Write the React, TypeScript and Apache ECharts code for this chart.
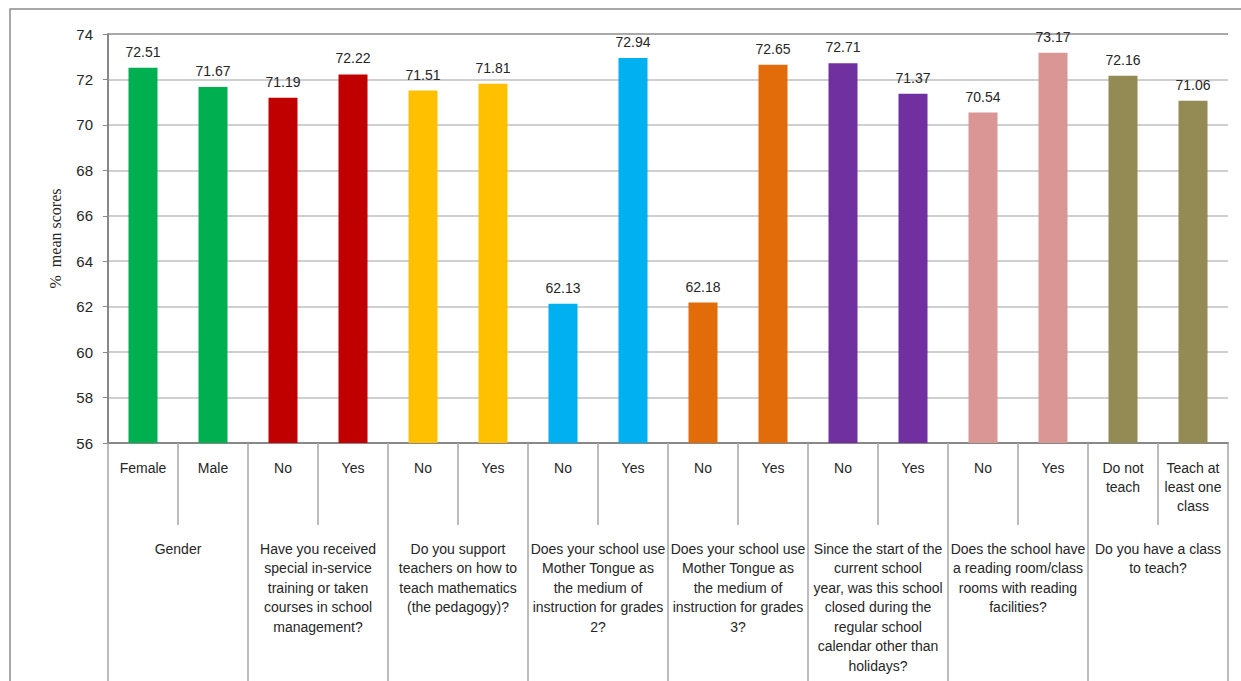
import React, { useEffect, useRef } from "react";
import * as echarts from "echarts";

const subCategories = [
  "Female", "Male", "No", "Yes", "No", "Yes", "No", "Yes",
  "No", "Yes", "No", "Yes", "No", "Yes", "Do not\nteach", "Teach at\nleast one\nclass",
];
const groupLabels = [
  "Gender",
  "Have you received\nspecial in-service\ntraining or taken\ncourses in school\nmanagement?",
  "Do you support\nteachers on how to\nteach mathematics\n(the pedagogy)?",
  "Does your school use\nMother Tongue as\nthe medium of\ninstruction for grades\n2?",
  "Does your school use\nMother Tongue as\nthe medium of\ninstruction for grades\n3?",
  "Since the start of the\ncurrent school\nyear, was this school\nclosed during the\nregular school\ncalendar other than\nholidays?",
  "Does the school have\na reading room/class\nrooms with reading\nfacilities?",
  "Do you have a class\nto teach?",
];
const values = [
  72.51, 71.67, 71.19, 72.22, 71.51, 71.81, 62.13, 72.94,
  62.18, 72.65, 72.71, 71.37, 70.54, 73.17, 72.16, 71.06,
];
const barColors = [
  "#00b050", "#00b050", "#c00000", "#c00000", "#ffc000", "#ffc000", "#00b0f0", "#00b0f0",
  "#e36c0a", "#e36c0a", "#7030a0", "#7030a0", "#d99694", "#d99694", "#948a54", "#948a54",
];
const yTicks = { min: 56, max: 74, interval: 2 };

const FONT = "Liberation Sans";

export default function App() {
  const ref = useRef<HTMLDivElement>(null);
  useEffect(() => {
    if (!ref.current) return;
    const chart = echarts.init(ref.current, undefined, { renderer: "svg" });
    chart.setOption({
      animation: false,
      textStyle: { fontFamily: FONT },
      grid: { left: 108, right: 13, top: 34, bottom: 238, containLabel: false },
      graphic: [
        {
          type: "rect",
          shape: { x: 10, y: 9, width: 1240, height: 700 },
          style: { fill: "none", stroke: "#8c8c8c", lineWidth: 1.5 },
          silent: true,
        },
      ],
      xAxis: [
        {
          type: "category",
          data: subCategories,
          position: "bottom",
          axisLine: { show: true, lineStyle: { color: "#888", width: 2 } },
          axisTick: { show: true, interval: 0, length: 82, lineStyle: { color: "#a6a6a6", width: 1.5 } },
          axisLabel: {
            interval: 0,
            margin: 15,
            fontSize: 14,
            lineHeight: 19,
            color: "#262626",
            fontFamily: FONT,
            verticalAlign: "top",
          },
        },
        {
          type: "category",
          data: groupLabels,
          position: "bottom",
          offset: 82,
          axisLine: { show: false },
          axisTick: { show: true, interval: 0, length: 170, lineStyle: { color: "#a6a6a6", width: 1.5 } },
          axisLabel: {
            interval: 0,
            margin: 14,
            fontSize: 14,
            lineHeight: 19.5,
            color: "#262626",
            fontFamily: FONT,
            verticalAlign: "top",
          },
        },
      ],
      yAxis: {
        type: "value",
        min: yTicks.min,
        max: yTicks.max,
        interval: yTicks.interval,
        name: "%  mean scores",
        nameLocation: "middle",
        nameGap: 45,
        nameTextStyle: { fontFamily: "Liberation Serif", fontSize: 16, color: "#262626" },
        axisLine: { show: true, lineStyle: { color: "#888", width: 2 } },
        axisTick: { show: true, length: 5, lineStyle: { color: "#888" } },
        axisLabel: { fontSize: 15, color: "#262626", margin: 15, fontFamily: FONT },
        splitLine: {
          show: true,
          lineStyle: {
            color: ["#bfbfbf", "#bfbfbf", "#bfbfbf", "#bfbfbf", "#bfbfbf", "#bfbfbf", "#bfbfbf", "#bfbfbf", "#bfbfbf", "#8c8c8c"],
            width: 1.5,
          },
        },
      },
      series: [
        {
          type: "bar",
          xAxisIndex: 0,
          barWidth: 29,
          data: values.map((v, i) => ({ value: v, itemStyle: { color: barColors[i] } })),
          label: {
            show: true,
            position: "top",
            distance: 9,
            fontSize: 14,
            color: "#262626",
            fontFamily: FONT,
            formatter: (p: any) => p.value.toFixed(2),
          },
        },
      ],
    });
    return () => chart.dispose();
  }, []);
  return <div ref={ref} style={{ width: 1241, height: 681, position: "absolute", left: 0, top: 0 }} />;
}
